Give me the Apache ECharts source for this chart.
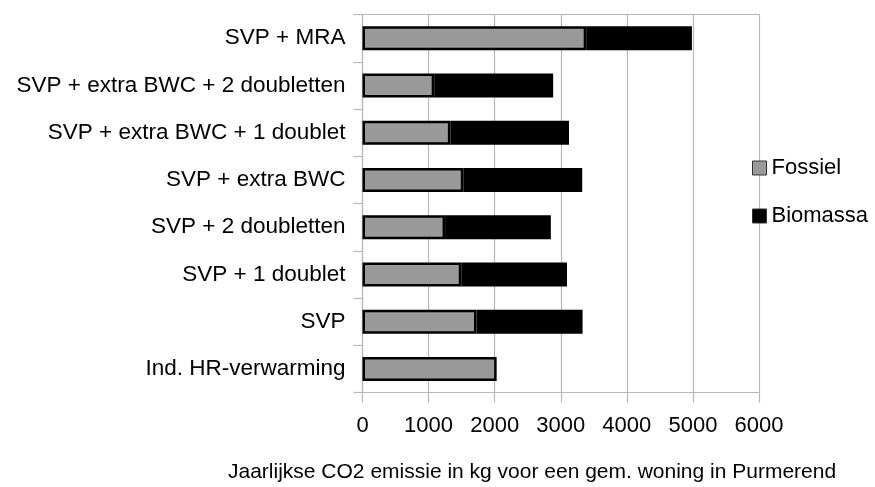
<!DOCTYPE html>
<html>
<head>
<meta charset="utf-8">
<script src="https://cdn.jsdelivr.net/npm/echarts@6/dist/echarts.min.js"></script>
<style>html,body{margin:0;padding:0;background:#fff;}#c{width:875px;height:487px;}</style>
</head>
<body>
<div id="c"></div>
<script>
// Categories listed top to bottom
var categories = ['SVP + MRA', 'SVP + extra BWC + 2 doubletten', 'SVP + extra BWC + 1 doublet', 'SVP + extra BWC', 'SVP + 2 doubletten', 'SVP + 1 doublet', 'SVP', 'Ind. HR-verwarming'];
var fossiel = [3385, 1085, 1330, 1525, 1250, 1495, 1725, 2030];
var biomassa = [1600, 1800, 1795, 1800, 1600, 1600, 1605, 0];
var xTicks = [0, 1000, 2000, 3000, 4000, 5000, 6000];
var seriesNames = ['Fossiel', 'Biomassa'];
var axisTitle = 'Jaarlijkse CO2 emissie in kg voor een gem. woning in Purmerend';

var FONT = 'Liberation Sans, Arial, sans-serif';
var GRAY = '#b8b8b8';
function noZero(arr) { return arr.map(function (v) { return v === 0 ? '-' : v; }); }
var chart = echarts.init(document.getElementById('c'), null, {renderer: 'canvas'});
chart.setOption({
  animation: false,
  backgroundColor: '#fff',
  title: {
    text: axisTitle,
    left: 228, top: 462, padding: 0,
    textStyle: {fontFamily: FONT, fontSize: 21, fontWeight: 'normal', color: '#000'}
  },
  legend: {
    orient: 'vertical',
    left: 752, top: 157, padding: 0,
    itemWidth: 14, itemHeight: 14, itemGap: 26,
    icon: 'rect',
    textStyle: {fontFamily: FONT, fontSize: 22, color: '#000'},
    itemStyle: {borderWidth: 1, borderColor: '#333'},
    data: seriesNames
  },
  grid: {left: 362.5, right: 116, top: 14.5, bottom: 94.5, containLabel: false},
  xAxis: [{
    type: 'value', min: 0, max: 6000, interval: 1000,
    axisLine: {show: true, lineStyle: {color: GRAY, width: 1.2}},
    axisTick: {show: true, length: 10, lineStyle: {color: GRAY, width: 1.2}},
    axisLabel: {margin: 22, fontFamily: FONT, fontSize: 22, color: '#000',
      formatter: function (v) { return xTicks.indexOf(v) >= 0 ? String(v) : ''; }},
    splitLine: {show: true, lineStyle: {color: GRAY, width: 1.2}}
  }, {
    type: 'value', position: 'top', min: 0, max: 6000, interval: 1000,
    axisLine: {show: true, lineStyle: {color: GRAY, width: 1.2}},
    axisTick: {show: false}, axisLabel: {show: false}, splitLine: {show: false}
  }],
  yAxis: {
    type: 'category', inverse: true, data: categories,
    axisLine: {show: true, lineStyle: {color: GRAY, width: 1.2}},
    axisTick: {show: true, length: 9, lineStyle: {color: GRAY, width: 1.2}},
    axisLabel: {margin: 17, fontFamily: FONT, fontSize: 22.5, color: '#000'}
  },
  series: [{
    name: seriesNames[0], type: 'bar', stack: 'total', xAxisIndex: 0,
    barWidth: 24,
    data: noZero(fossiel),
    itemStyle: {color: '#999999', borderColor: '#000', borderWidth: 2.5}
  }, {
    name: seriesNames[1], type: 'bar', stack: 'total', xAxisIndex: 0,
    barWidth: 24,
    data: noZero(biomassa),
    itemStyle: {color: '#000000', borderColor: '#000', borderWidth: 2.5}
  }]
});
</script>
</body>
</html>
